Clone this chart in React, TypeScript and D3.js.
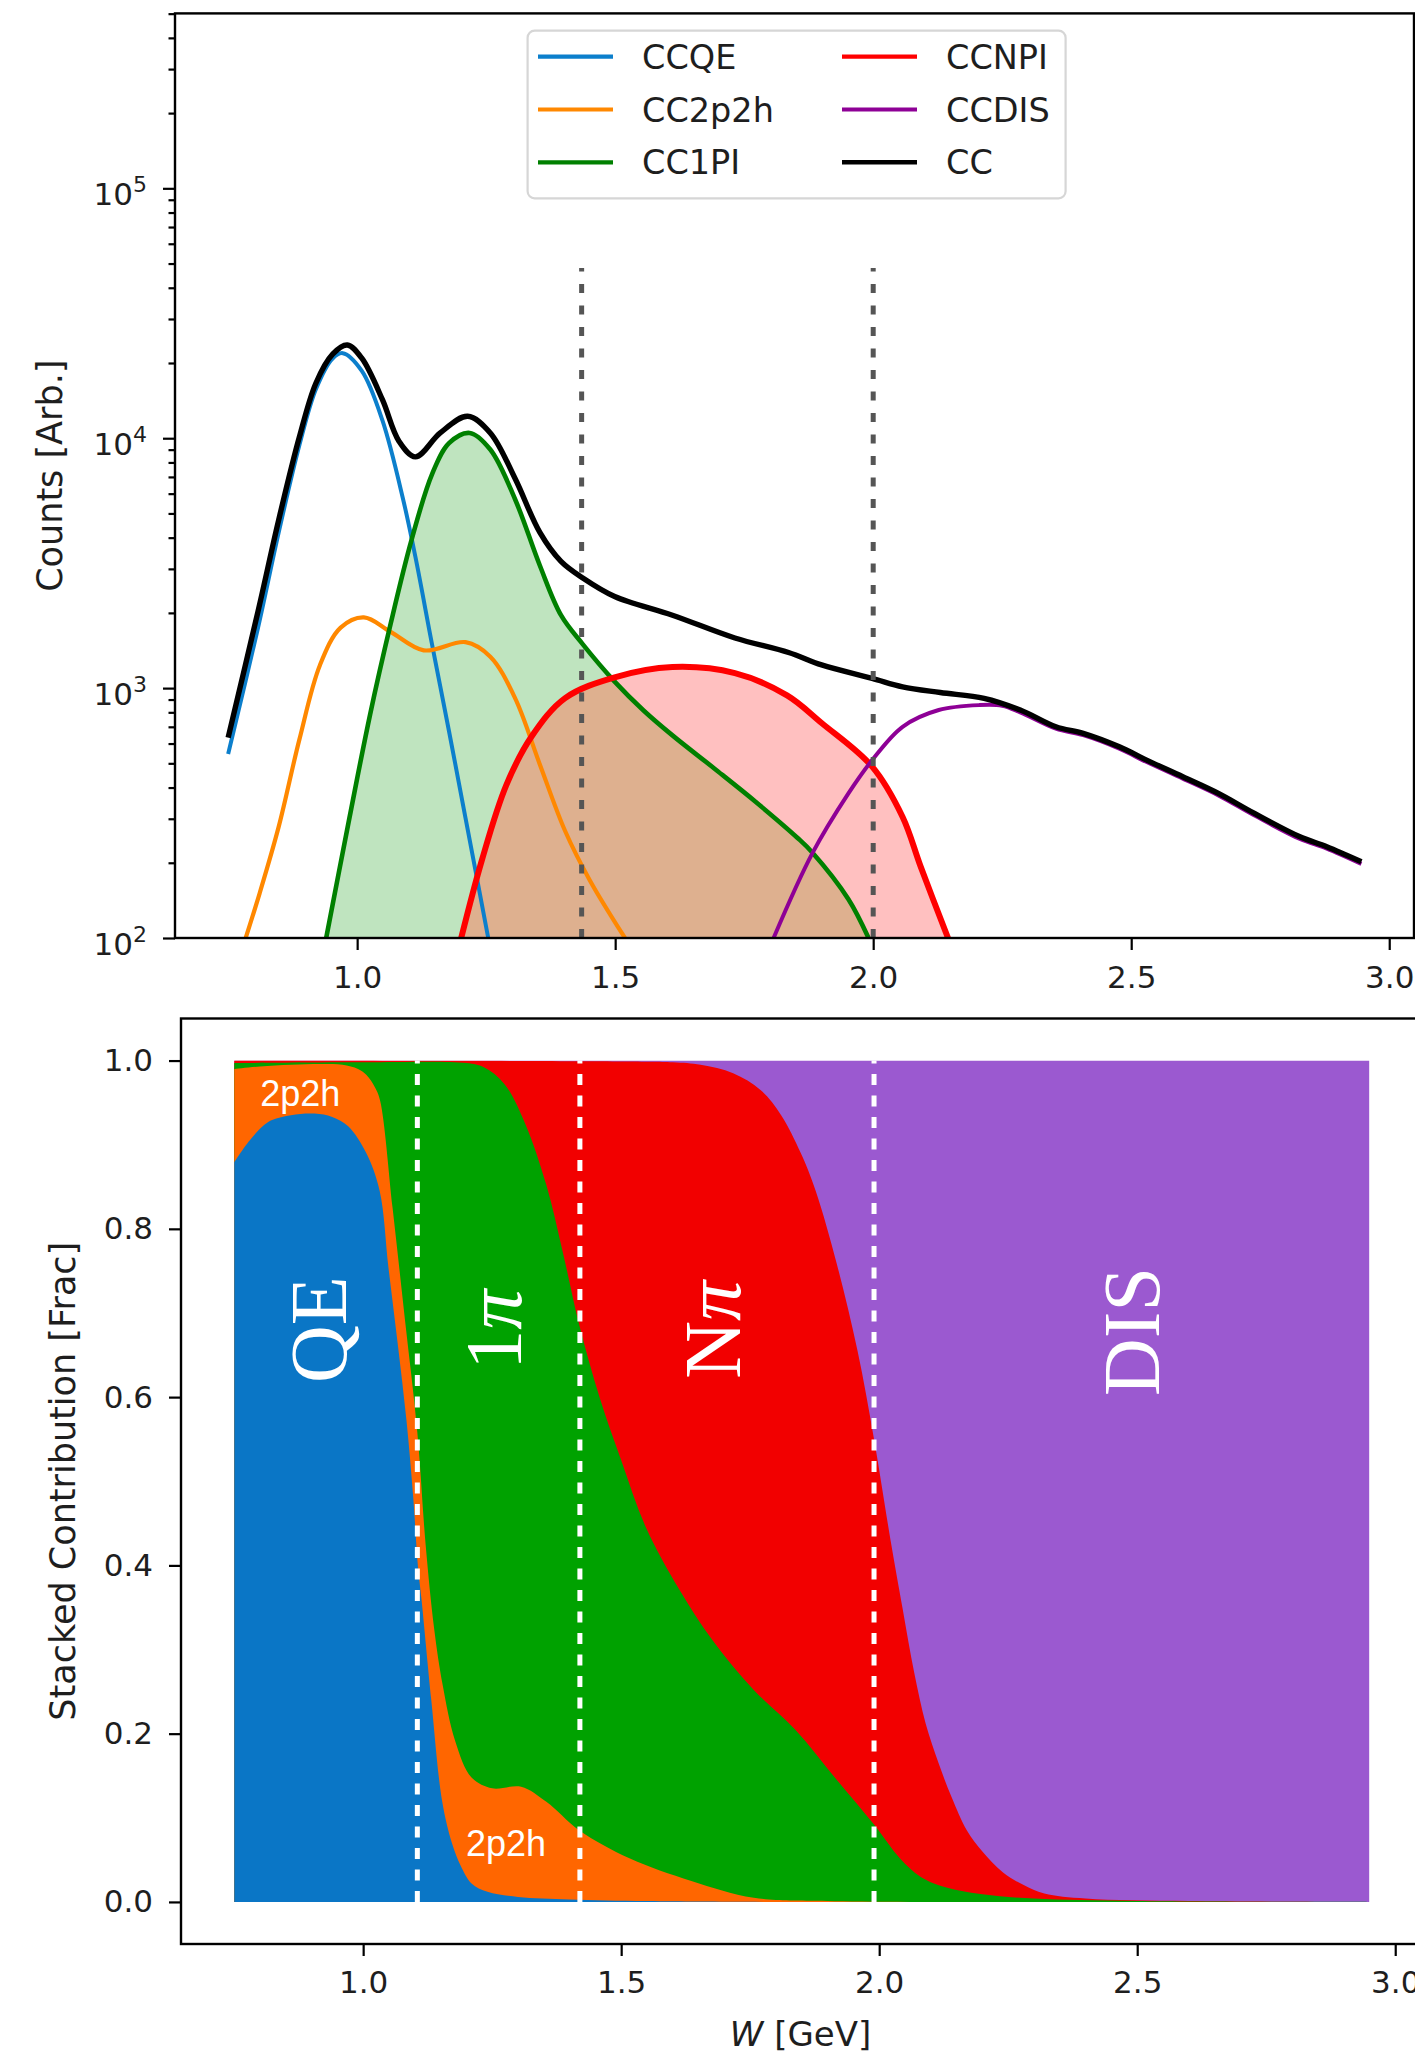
import { useEffect, useRef } from 'react';
import * as d3 from 'd3';

// ---------- top panel: counts vs W (log y) ----------
const qeW = [0.75, 0.808, 0.848, 0.888, 0.92, 0.952, 0.972, 1.009, 1.049, 1.089, 1.113, 1.145, 1.178, 1.21, 1.254];
const qeCounts = [545, 1746, 4200, 9370, 15700, 20800, 21900, 18600, 11780, 5700, 3340, 1500, 672, 302, 100];

const mecW = [0.784, 0.811, 0.848, 0.888, 0.928, 0.968, 1.013, 1.065, 1.129, 1.21, 1.258, 1.306, 1.354, 1.403, 1.451, 1.519];
const mecCounts = [100, 151, 279, 622, 1238, 1746, 1919, 1679, 1416, 1527, 1336, 912, 495, 268, 170, 100];

const pi1W = [0.94, 0.985, 1.025, 1.065, 1.105, 1.145, 1.178, 1.218, 1.258, 1.306, 1.354, 1.395, 1.437, 1.499, 1.555, 1.611, 1.692, 1.772, 1.853, 1.882, 1.952, 1.991];
const pi1Counts = [100, 302, 783, 1813, 3890, 7170, 9550, 10500, 9010, 5700, 3095, 1958, 1500, 1062, 814, 647, 477, 351, 252, 220, 143, 100];

const npiW = [1.2016, 1.242, 1.289, 1.338, 1.403, 1.499, 1.611, 1.732, 1.833, 1.9, 1.998, 2.057, 2.092, 2.145];
const npiCounts = [100, 206, 409, 640, 912, 1104, 1214, 1148, 935, 725, 485, 305, 193, 100];

const disW = [1.807, 1.882, 1.952, 1.998, 2.057, 2.127, 2.206, 2.25, 2.285, 2.354, 2.407, 2.477, 2.53, 2.6, 2.669, 2.739, 2.827, 2.879, 2.946];
const disCounts = [100, 218, 379, 515, 700, 817, 855, 850, 800, 688, 648, 572, 506, 434, 372, 309, 249, 228, 198];

const ccW = [0.75, 0.808, 0.848, 0.888, 0.92, 0.9525, 0.981, 1.009, 1.049, 1.081, 1.113, 1.161, 1.214, 1.258, 1.306, 1.354, 1.395, 1.437, 1.499, 1.611, 1.732, 1.836, 1.9, 1.998, 2.057, 2.13, 2.215, 2.285, 2.354, 2.407, 2.477, 2.53, 2.6, 2.669, 2.739, 2.827, 2.879, 2.946];
const ccCounts = [634, 2033, 4715, 10110, 16600, 21700, 23600, 20900, 14260, 9730, 8420, 10500, 12240, 10500, 6900, 4200, 3215, 2760, 2325, 1958, 1587, 1388, 1238, 1094, 1012, 960, 910, 817, 700, 659, 582, 515, 442, 379, 315, 254, 232, 202];

const topCutW = [1.435, 2.0];
const topCutMax = 4.8e4;

// ---------- bottom panel: stacked fraction boundaries ----------
const qeTopW = [0.75, 0.78, 0.816, 0.86, 0.906, 0.94, 0.971, 1.006, 1.032, 1.049, 1.067, 1.084, 1.097, 1.106, 1.113, 1.132, 1.153, 1.172, 1.189, 1.21, 1.241, 1.3, 1.4, 1.55, 1.8, 2.95];
const qeTopFrac = [0.879, 0.905, 0.927, 0.935, 0.937, 0.933, 0.922, 0.89, 0.845, 0.754, 0.663, 0.572, 0.481, 0.4, 0.36, 0.24, 0.12, 0.07, 0.043, 0.022, 0.012, 0.006, 0.003, 0.001, 0, 0];

const mecTopW = [0.75, 0.8, 0.86, 0.92, 0.96, 0.99, 1.006, 1.023, 1.033, 1.057, 1.081, 1.105, 1.121, 1.1375, 1.154, 1.178, 1.21, 1.25, 1.306, 1.355, 1.419, 1.516, 1.636, 1.757, 1.9, 2.95];
const mecTopFrac = [0.99, 0.993, 0.995, 0.996, 0.995, 0.99, 0.983, 0.968, 0.952, 0.825, 0.692, 0.558, 0.425, 0.325, 0.258, 0.192, 0.148, 0.135, 0.137, 0.119, 0.085, 0.052, 0.025, 0.005, 0.001, 0];

const pi1TopW = [0.75, 1.0, 1.2, 1.234, 1.274, 1.314, 1.355, 1.387, 1.419, 1.459, 1.5, 1.548, 1.612, 1.676, 1.757, 1.837, 1.918, 1.99, 2.04, 2.08, 2.12, 2.2, 2.3, 2.5, 2.95];
const pi1TopFrac = [0.997, 0.998, 0.997, 0.992, 0.972, 0.925, 0.852, 0.772, 0.685, 0.598, 0.525, 0.445, 0.372, 0.312, 0.252, 0.205, 0.145, 0.092, 0.052, 0.03, 0.019, 0.009, 0.004, 0.001, 0];

const npiTopW = [0.75, 1.5, 1.6, 1.654, 1.717, 1.77, 1.81, 1.848, 1.877, 1.918, 1.958, 1.99, 2.022, 2.045, 2.068, 2.09, 2.115, 2.14, 2.17, 2.2, 2.24, 2.28, 2.32, 2.4, 2.6, 2.95];
const npiTopFrac = [1.0, 0.999, 0.998, 0.995, 0.985, 0.965, 0.935, 0.89, 0.845, 0.758, 0.655, 0.55, 0.43, 0.35, 0.272, 0.212, 0.165, 0.125, 0.085, 0.06, 0.035, 0.02, 0.01, 0.004, 0.001, 0];

const disTopW = [0.75, 2.95];
const disTopFrac = [1.0, 1.0];

const botCutW = [1.105, 1.42, 1.99];

// tick values
const wTicks = [1.0, 1.5, 2.0, 2.5, 3.0];
const fracTicks = [0, 0.2, 0.4, 0.6, 0.8, 1.0];
const countMajors = [1e2, 1e3, 1e4, 1e5];
const W_RANGE: [number, number] = [0.647, 3.048];
const COUNT_RANGE: [number, number] = [1e2, Math.pow(10, 5.7)];
const FRAC_RANGE: [number, number] = [-0.05, 1.05];

const legendItems = [
  { label: 'CCQE', color: '#0c7fcc' },
  { label: 'CC2p2h', color: '#ff8800' },
  { label: 'CC1PI', color: '#008000' },
  { label: 'CCNPI', color: '#ff0000' },
  { label: 'CCDIS', color: '#8e0096' },
  { label: 'CC', color: '#000000' },
];

const regionLabels = [
  { w: 0.914, f: 0.68, main: 'QE', pi: '' },
  { w: 1.254, f: 0.68, main: '1', pi: 'π' },
  { w: 1.678, f: 0.68, main: 'N', pi: 'π' },
  { w: 2.49, f: 0.678, main: 'DIS', pi: '' },
];

const mecLabels = [
  { w: 0.878, f: 0.961 },
  { w: 1.277, f: 0.069 },
];

const FONT = '"DejaVu Sans", sans-serif';
const TEXT_COL = '#1e1e1e';

export default function App() {
  const svgRef = useRef<SVGSVGElement>(null);

  useEffect(() => {
    if (!svgRef.current) return;
    const svg = d3.select(svgRef.current);
    svg.selectAll('*').remove();

    const TOP = { left: 175, right: 1414, top: 13.4, bottom: 938 };
    const BOT = { left: 181, right: 1420, top: 1018.5, bottom: 1944 };

    const xT = d3.scaleLinear().domain(W_RANGE).range([TOP.left, TOP.right]);
    const yT = d3.scaleLog().domain(COUNT_RANGE).range([TOP.bottom, TOP.top]);
    const xB = d3.scaleLinear().domain(W_RANGE).range([BOT.left, BOT.right]);
    const yB = d3.scaleLinear().domain(FRAC_RANGE).range([BOT.bottom, BOT.top]);

    const smooth = d3.curveCatmullRom.alpha(0.5);

    const defs = svg.append('defs');
    defs
      .append('clipPath')
      .attr('id', 'clipTop')
      .append('rect')
      .attr('x', TOP.left)
      .attr('y', TOP.top)
      .attr('width', TOP.right - TOP.left)
      .attr('height', TOP.bottom - TOP.top);
    defs
      .append('clipPath')
      .attr('id', 'clipBot')
      .append('rect')
      .attr('x', xB(0.75))
      .attr('y', yB(1))
      .attr('width', xB(2.95) - xB(0.75))
      .attr('height', yB(0) - yB(1));

    const lineT = (xs: number[], ys: number[]) =>
      d3
        .line<number>()
        .x((_, i) => xT(xs[i]))
        .y((d) => yT(d))
        .curve(smooth)(ys) || '';
    const areaT = (xs: number[], ys: number[]) =>
      d3
        .area<number>()
        .x((_, i) => xT(xs[i]))
        .y0(TOP.bottom + 10)
        .y1((d) => yT(d))
        .curve(smooth)(ys) || '';

    // ----- top panel -----
    const gTop = svg.append('g').attr('clip-path', 'url(#clipTop)');
    gTop.append('path').attr('d', areaT(pi1W, pi1Counts)).attr('fill', '#bfe4bf');
    gTop.append('path').attr('d', areaT(npiW, npiCounts)).attr('fill', '#ffc0c0');
    defs.append('clipPath').attr('id', 'clipPi1').append('path').attr('d', areaT(pi1W, pi1Counts));
    gTop
      .append('g')
      .attr('clip-path', 'url(#clipPi1)')
      .append('path')
      .attr('d', areaT(npiW, npiCounts))
      .attr('fill', '#deb08f');

    const series = [
      { xs: qeW, ys: qeCounts, color: legendItems[0].color, w: 4 },
      { xs: mecW, ys: mecCounts, color: legendItems[1].color, w: 4.2 },
      { xs: pi1W, ys: pi1Counts, color: legendItems[2].color, w: 4.6 },
      { xs: npiW, ys: npiCounts, color: legendItems[3].color, w: 6 },
      { xs: disW, ys: disCounts, color: legendItems[4].color, w: 4 },
      { xs: ccW, ys: ccCounts, color: legendItems[5].color, w: 5.4 },
    ];
    series.forEach((s) => {
      gTop
        .append('path')
        .attr('d', lineT(s.xs, s.ys))
        .attr('fill', 'none')
        .attr('stroke', s.color)
        .attr('stroke-width', s.w)
        .attr('stroke-linejoin', 'round');
    });

    topCutW.forEach((w) => {
      gTop
        .append('line')
        .attr('x1', xT(w))
        .attr('x2', xT(w))
        .attr('y1', yT(COUNT_RANGE[0]))
        .attr('y2', yT(topCutMax))
        .attr('stroke', '#555555')
        .attr('stroke-width', 5)
        .attr('stroke-dasharray', '9 12.5');
    });

    // legend
    const leg = svg.append('g');
    leg
      .append('rect')
      .attr('x', 527.6)
      .attr('y', 30.7)
      .attr('width', 538)
      .attr('height', 167.6)
      .attr('rx', 7)
      .attr('fill', 'white')
      .attr('fill-opacity', 0.85)
      .attr('stroke', '#d6d6d6')
      .attr('stroke-width', 2.2);
    legendItems.forEach((it, i) => {
      const col = Math.floor(i / 3);
      const row = i % 3;
      const lx = col === 0 ? 538 : 842;
      const tx = col === 0 ? 642 : 946;
      const cy = 56.7 + row * 52.8;
      leg
        .append('line')
        .attr('x1', lx)
        .attr('x2', lx + 75)
        .attr('y1', cy)
        .attr('y2', cy)
        .attr('stroke', it.color)
        .attr('stroke-width', it.label === 'CC' ? 4.6 : 4.2);
      leg
        .append('text')
        .attr('x', tx)
        .attr('y', cy + 12)
        .attr('font-family', FONT)
        .attr('font-size', 33.5)
        .attr('fill', TEXT_COL)
        .text(it.label);
    });

    // top axes
    const styleAxis = (g: d3.Selection<SVGGElement, unknown, null, undefined>) => {
      g.select('.domain').remove();
      g.selectAll('line').attr('stroke', '#000').attr('stroke-width', 2.2);
      g.selectAll('text').attr('font-family', FONT).attr('font-size', 31).attr('fill', TEXT_COL);
    };

    svg
      .append('g')
      .attr('transform', `translate(0,${TOP.bottom})`)
      .call(d3.axisBottom(xT).tickValues(wTicks).tickSize(12).tickPadding(16).tickFormat(d3.format('.1f')))
      .call(styleAxis);

    const minorCounts = yT.ticks().filter((t) => !countMajors.includes(t));
    svg
      .append('g')
      .attr('transform', `translate(${TOP.left},0)`)
      .call(d3.axisLeft(yT).tickValues(minorCounts).tickSize(6.5).tickFormat(() => ''))
      .call(styleAxis);
    const yMaj = svg
      .append('g')
      .attr('transform', `translate(${TOP.left},0)`)
      .call(d3.axisLeft(yT).tickValues(countMajors).tickSize(12).tickPadding(16).tickFormat(() => ''))
      .call(styleAxis);
    yMaj.selectAll<SVGTextElement, number>('.tick text').each(function (d) {
      const t = d3.select(this).attr('dy', '0.52em');
      t.append('tspan').text('10');
      t.append('tspan')
        .attr('dy', -13)
        .attr('font-size', 22)
        .text(String(Math.round(Math.log10(d))));
    });

    svg
      .append('rect')
      .attr('x', TOP.left)
      .attr('y', TOP.top)
      .attr('width', TOP.right - TOP.left)
      .attr('height', TOP.bottom - TOP.top)
      .attr('fill', 'none')
      .attr('stroke', '#000')
      .attr('stroke-width', 2.4);

    svg
      .append('text')
      .attr('transform', `translate(50,${(TOP.top + TOP.bottom) / 2}) rotate(-90)`)
      .attr('text-anchor', 'middle')
      .attr('dominant-baseline', 'central')
      .attr('font-family', FONT)
      .attr('font-size', 35)
      .attr('fill', TEXT_COL)
      .text('Counts [Arb.]');

    // ----- bottom panel -----
    const areaB = (xs: number[], ys: number[]) =>
      d3
        .area<number>()
        .x((_, i) => xB(xs[i]))
        .y0(yB(0))
        .y1((d) => yB(d))
        .curve(smooth)(ys) || '';

    const gBot = svg.append('g');
    const gLayers = gBot.append('g').attr('clip-path', 'url(#clipBot)');
    const layers = [
      { xs: disTopW, ys: disTopFrac, color: '#9b59d0' },
      { xs: npiTopW, ys: npiTopFrac, color: '#f20000' },
      { xs: pi1TopW, ys: pi1TopFrac, color: '#00a200' },
      { xs: mecTopW, ys: mecTopFrac, color: '#ff6600' },
      { xs: qeTopW, ys: qeTopFrac, color: '#0a76c6' },
    ];
    layers.forEach((l) => {
      gLayers.append('path').attr('d', areaB(l.xs, l.ys)).attr('fill', l.color);
    });

    botCutW.forEach((w) => {
      gBot
        .append('line')
        .attr('x1', xB(w))
        .attr('x2', xB(w))
        .attr('y1', yB(0))
        .attr('y2', yB(1))
        .attr('stroke', 'white')
        .attr('stroke-width', 5)
        .attr('stroke-dasharray', '11 10.5');
    });

    regionLabels.forEach((r) => {
      const t = gBot
        .append('text')
        .attr('transform', `translate(${xB(r.w)},${yB(r.f)}) rotate(-90)`)
        .attr('text-anchor', 'middle')
        .attr('dominant-baseline', 'central')
        .attr('font-family', '"Liberation Serif", serif')
        .attr('font-size', 80)
        .attr('fill', 'white');
      t.append('tspan').text(r.main);
      if (r.pi) t.append('tspan').attr('font-style', 'italic').text(r.pi);
    });

    mecLabels.forEach((m) => {
      gBot
        .append('text')
        .attr('x', xB(m.w))
        .attr('y', yB(m.f))
        .attr('text-anchor', 'middle')
        .attr('dominant-baseline', 'central')
        .attr('font-family', '"Liberation Sans", Arial, sans-serif')
        .attr('font-size', 36)
        .attr('fill', 'white')
        .text('2p2h');
    });

    svg
      .append('g')
      .attr('transform', `translate(0,${BOT.bottom})`)
      .call(d3.axisBottom(xB).tickValues(wTicks).tickSize(12).tickPadding(15).tickFormat(d3.format('.1f')))
      .call(styleAxis);
    svg
      .append('g')
      .attr('transform', `translate(${BOT.left},0)`)
      .call(d3.axisLeft(yB).tickValues(fracTicks).tickSize(12).tickPadding(16).tickFormat(d3.format('.1f')))
      .call(styleAxis);

    svg
      .append('rect')
      .attr('x', BOT.left)
      .attr('y', BOT.top)
      .attr('width', BOT.right - BOT.left)
      .attr('height', BOT.bottom - BOT.top)
      .attr('fill', 'none')
      .attr('stroke', '#000')
      .attr('stroke-width', 2.4);

    svg
      .append('text')
      .attr('transform', `translate(63,${(BOT.top + BOT.bottom) / 2}) rotate(-90)`)
      .attr('text-anchor', 'middle')
      .attr('dominant-baseline', 'central')
      .attr('font-family', FONT)
      .attr('font-size', 35)
      .attr('fill', TEXT_COL)
      .text('Stacked Contribution [Frac]');

    const xl = svg
      .append('text')
      .attr('x', (BOT.left + BOT.right) / 2)
      .attr('y', 2046)
      .attr('text-anchor', 'middle')
      .attr('font-family', FONT)
      .attr('font-size', 34)
      .attr('fill', TEXT_COL);
    xl.append('tspan').attr('font-style', 'italic').text('W');
    xl.append('tspan').text(' [GeV]');
  }, []);

  return (
    <div style={{ position: 'absolute', left: 0, top: 0, width: 1415, height: 2058, background: 'white' }}>
      <svg ref={svgRef} width={1415} height={2058} style={{ display: 'block' }} />
    </div>
  );
}
